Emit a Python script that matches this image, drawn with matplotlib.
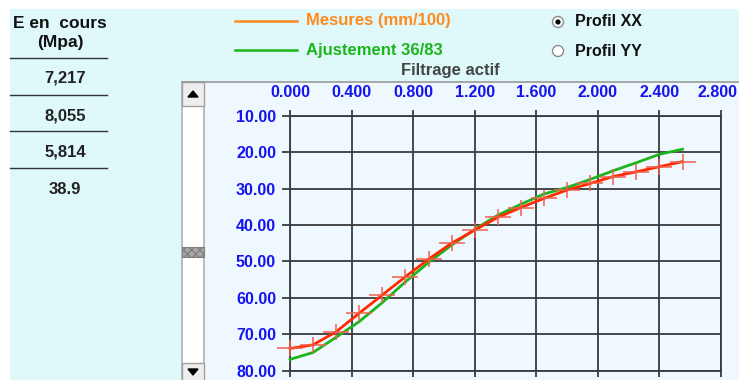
import numpy as np
import matplotlib
matplotlib.use('Agg')
import matplotlib.pyplot as plt
from matplotlib.patches import Rectangle, Circle, Polygon
from matplotlib.path import Path
from matplotlib.transforms import ScaledTranslation

# Profile data (depth in mm/100 vs position)
positions = [0.00, 0.15, 0.30, 0.45, 0.60, 0.75, 0.90, 1.05, 1.20,
             1.35, 1.50, 1.65, 1.80, 1.95, 2.10, 2.25, 2.40, 2.55]
mesures = [73.9, 72.9, 69.3, 64.2, 59.2, 54.2, 49.4, 45.0, 41.4,
           37.9, 35.2, 32.7, 30.4, 28.6, 26.7, 25.4, 24.0, 22.6]
ajustement = [76.9, 75.0, 70.8, 66.5, 61.3, 55.6, 50.3, 45.5, 41.2,
              37.3, 34.3, 31.5, 29.7, 27.5, 25.1, 22.9, 20.6, 19.2]

x_ticks = [0.0, 0.4, 0.8, 1.2, 1.6, 2.0, 2.4, 2.8]
y_ticks = [10, 20, 30, 40, 50, 60, 70, 80]

table_header = ['E en  cours', '(Mpa)']
table_values = ['7,217', '8,055', '5,814', '38.9']
legend_labels = ['Mesures (mm/100)', 'Ajustement 36/83']
profils = ['Profil XX', 'Profil YY']

W, H = 739, 380
BG = '#DFF8FA'
PANEL = '#F0F8FF'
GRID = '#3a3a3a'
TICK_BLUE = '#1414EE'

plt.rcParams['font.family'] = ['Liberation Sans', 'DejaVu Sans']
plt.rcParams['font.weight'] = 'bold'

fig = plt.figure(figsize=(W / 100, H / 100), dpi=100)
fig.patch.set_facecolor('white')

# Background layer in pixel coordinates
bg = fig.add_axes([0, 0, 1, 1])
bg.set_xlim(0, W)
bg.set_ylim(H, 0)
bg.axis('off')

bg.add_patch(Rectangle((10, 9), W - 10, H - 9, facecolor=BG, edgecolor='none'))
bg.add_patch(Rectangle((204, 82), W - 204, H - 82, facecolor=PANEL, edgecolor='none'))
bg.plot([182, W], [82, 82], color='#9a9a9a', lw=1.2)

# Scrollbar
bg.add_patch(Rectangle((182, 82), 22, H - 82, facecolor='white', edgecolor='#b0b0b0', lw=1.2))
bg.add_patch(Rectangle((182, 82), 22, 24, facecolor='#eeeeee', edgecolor='#a0a0a0', lw=1))
bg.add_patch(Rectangle((182, 363), 22, 18, facecolor='#eeeeee', edgecolor='#a0a0a0', lw=1))
bg.add_patch(Polygon([(188, 97), (198, 97), (193, 91)], closed=True, color='black'))
bg.add_patch(Polygon([(188, 369), (198, 369), (193, 375)], closed=True, color='black'))
bg.add_patch(Rectangle((182, 247), 22, 10, facecolor='#a8a8a8', edgecolor='#808080',
                       lw=0.8, hatch='xxxx'))

# Left value table
bg.text(60, 23, table_header[0], ha='center', va='center', fontsize=12.5, color='#111111')
bg.text(60, 43, table_header[1], ha='center', va='center', fontsize=12.5, color='#111111')
for yl in [58, 95, 131, 168]:
    bg.plot([10, 107], [yl, yl], color='#333333', lw=1)
for val, yv in zip(table_values, [78, 116, 152, 190]):
    bg.text(65, yv, val, ha='center', va='center', fontsize=12, color='#222222')

# Legend
bg.plot([235, 297], [20.5, 20.5], color='#FF8A1E', lw=1.8)
bg.plot([235, 297], [49.5, 49.5], color='#1CB51C', lw=1.8)
bg.text(306, 21, legend_labels[0], ha='left', va='center', fontsize=12, color='#FF8A1E')
bg.text(306, 50, legend_labels[1], ha='left', va='center', fontsize=12, color='#1CB51C')

# Radio buttons
for i, (label, yr) in enumerate(zip(profils, [22, 51])):
    bg.add_patch(Circle((558, yr), 5.5, facecolor='white', edgecolor='#8c8c8c', lw=1))
    if i == 0:
        bg.add_patch(Circle((558, yr), 2.6, facecolor='black', edgecolor='none'))
    bg.text(575, yr, label, ha='left', va='center', fontsize=11.5, color='#111111')

bg.text(450, 71, 'Filtrage actif', ha='center', va='center', fontsize=12, color='#444444')

# Main chart
ax = fig.add_axes([290 / W, 1 - 370.7 / H, 431 / W, 255 / H])
ax.patch.set_alpha(0)
ax.set_xlim(0, 2.8)
ax.set_ylim(80, 10)
ax.set_xticks(x_ticks)
ax.set_yticks(y_ticks)
ax.set_xticklabels([f'{v:.3f}' for v in x_ticks])
ax.set_yticklabels([f'{v:.2f}' for v in y_ticks])
ax.xaxis.tick_top()
ax.tick_params(axis='x', which='both', top=True, bottom=True, labeltop=True,
               labelbottom=False, direction='out', length=4, width=1.3,
               color=GRID, pad=7, labelsize=11.5, labelcolor=TICK_BLUE)
ax.tick_params(axis='y', direction='out', length=6, width=1.3, color=GRID,
               pad=4, labelsize=11.5, labelcolor=TICK_BLUE)
for lbl in ax.get_xticklabels() + ax.get_yticklabels():
    lbl.set_fontweight('bold')
# last x label sits against the right edge of the window
last = ax.xaxis.get_majorticklabels()[-1]
last.set_transform(last.get_transform() + ScaledTranslation(-0.03, 0, fig.dpi_scale_trans))
ax.grid(True, color=GRID, lw=1.3)
for s in ax.spines.values():
    s.set_color(GRID)
    s.set_linewidth(1.3)

cross = Path([(-1, 0), (1, 0), (0, -0.6), (0, 0.6)],
             [Path.MOVETO, Path.LINETO, Path.MOVETO, Path.LINETO])

ax.plot(positions, ajustement, color='#1DB41D', lw=2, zorder=3, clip_on=False)
ax.plot(positions, mesures, color='#FF2A00', lw=2, zorder=4, clip_on=False)
ax.plot(positions, mesures, linestyle='none', marker=cross, markersize=19,
        markeredgecolor='#F2604C', markeredgewidth=1.3, alpha=0.85, zorder=5,
        clip_on=False)

plt.savefig('out.png', dpi=100, facecolor=fig.get_facecolor())
print("Saved: out.png")
